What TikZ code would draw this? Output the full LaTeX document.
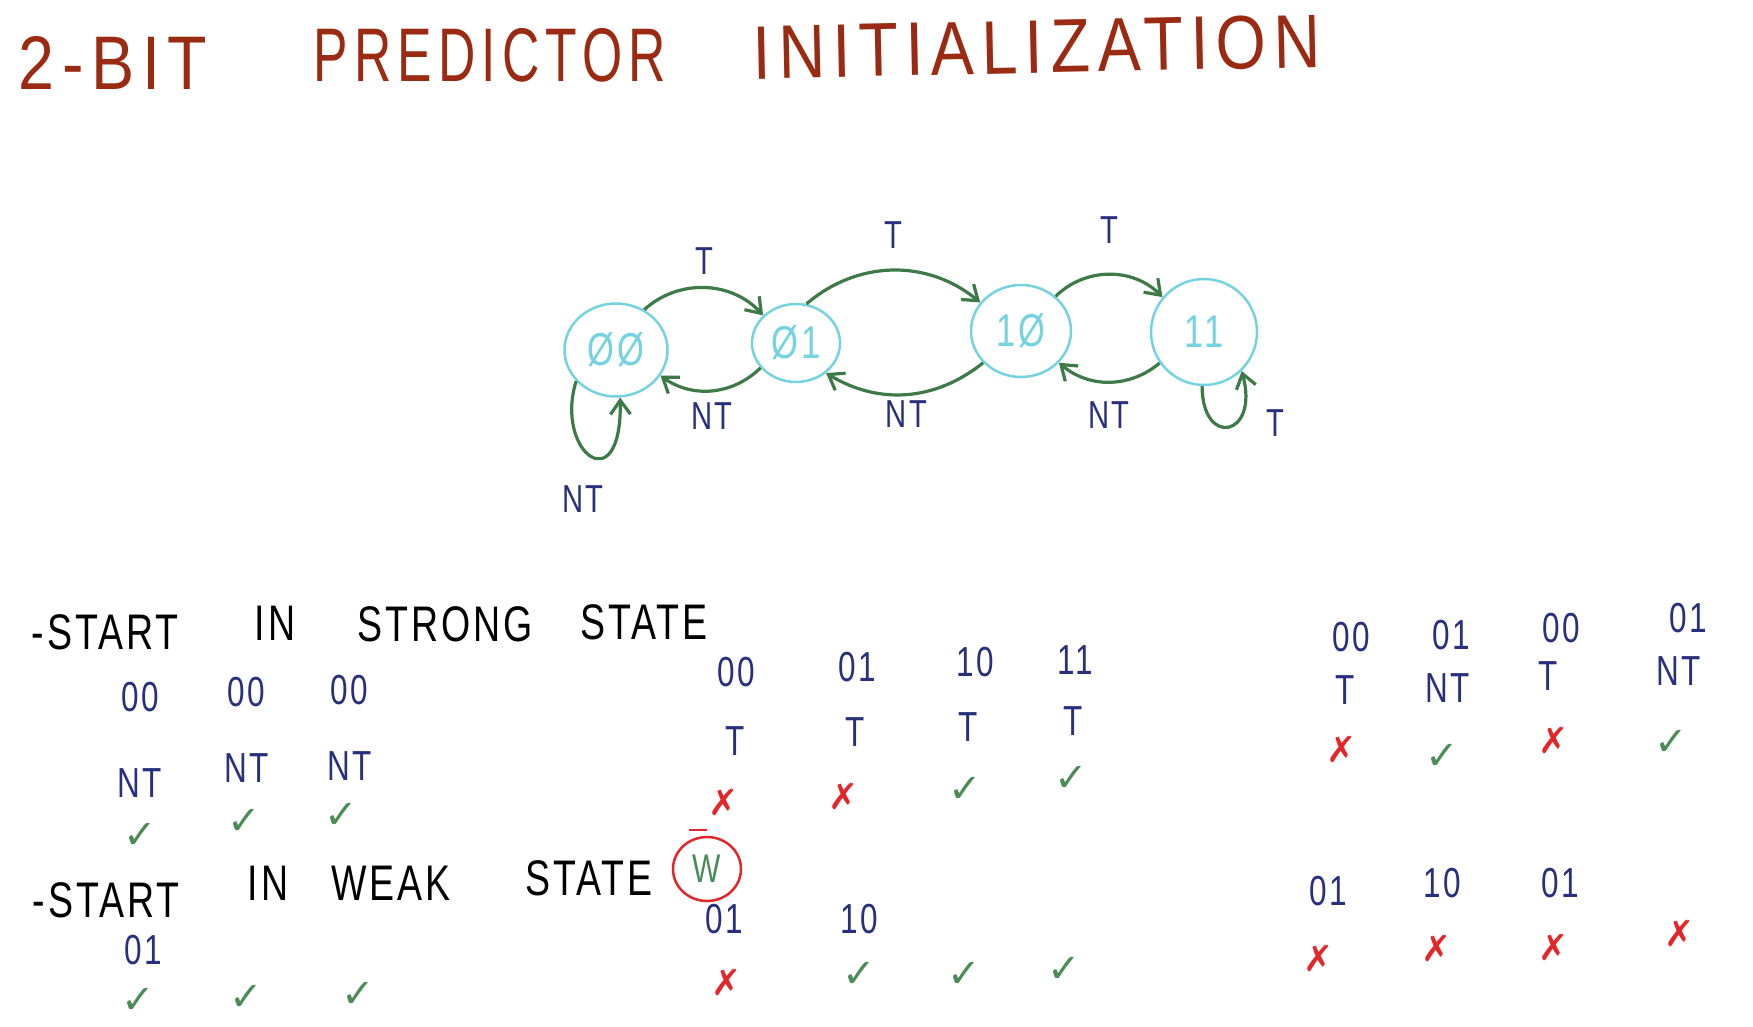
\documentclass[tikz,border=0pt]{standalone}
\usepackage{fontspec}
\usetikzlibrary{arrows.meta,positioning,shapes.geometric}
\newfontfamily\handfont[FakeStretch=0.75,LetterSpace=6]{Liberation Sans}
\newfontfamily\titlefont[FakeStretch=0.85,LetterSpace=10]{Liberation Sans}
\newfontfamily\symfont{DejaVu Sans}
\definecolor{titlered}{HTML}{9A2A12}
\definecolor{statecyan}{HTML}{74D3DF}
\definecolor{arrowgreen}{HTML}{3E7A48}
\definecolor{inkblue}{HTML}{28307E}
\definecolor{checkgreen}{HTML}{4B8B56}
\definecolor{crossred}{HTML}{E3262A}
\tikzset{
  heading/.style   = {text=titlered, font=\titlefont\fontsize{76}{80}\selectfont, inner sep=0pt},
  state/.style     = {ellipse, draw=statecyan, line width=2.5pt, text=statecyan, inner sep=0pt,
                      font=\handfont\fontsize{46}{48}\selectfont},
  trans/.style     = {-{Straight Barb[length=14pt,width=20pt]}, line width=3.2pt, draw=arrowgreen},
  edgelabel/.style = {text=inkblue, font=\handfont\fontsize{39}{41}\selectfont, inner sep=0pt},
  words/.style     = {text=black, font=\handfont\fontsize{50}{52}\selectfont, inner sep=0pt},
  bits/.style      = {text=inkblue, font=\handfont\fontsize{42}{44}\selectfont, inner sep=0pt},
  good/.style      = {text=checkgreen, font=\symfont\fontsize{40}{42}\selectfont, inner sep=0pt},
  bad/.style       = {text=crossred, font=\symfont\fontsize{36}{38}\selectfont, inner sep=0pt},
}

\begin{document}
\begin{tikzpicture}[x=1pt, y=-1pt]
    \useasboundingbox[fill=white] (0,0) rectangle (1753,1026);

    % Title
    \node[heading] (ttwobit) at (113,63) {2-BIT};
    \node[heading] (tpredictor) at (490,55) {\scalebox{0.8}[1]{PREDICTOR}};
    \node[heading, rotate=1.2] (tinit) at (1037,47) {INITIALIZATION};

    % States
    \node[state, minimum width=103, minimum height=93] (s00) at (616,350) {ØØ};
    \node[state, minimum width=88, minimum height=78] (s01) at (796,343) {Ø1};
    \node[state, minimum width=100, minimum height=92] (s10) at (1021,331) {1Ø};
    \node[state, minimum width=106, minimum height=106] (s11) at (1204,332) {11};

    % Taken edges
    \draw[trans] (s00.55) to[bend left=45] node[midway, above=12pt, edgelabel] (lt1) {T} (s01.140);
    \draw[trans] (s01.75) to[bend left=40] node[midway, above=20pt, edgelabel] (lt2) {T} (s10.145);
    \draw[trans] (s10.45) to[bend left=45] node[midway, above=29pt, edgelabel] (lt3) {T} (s11.140);
    \draw[trans] (s11.268) .. controls +(0,62) and +(18,66) .. (s11.314)
        node[pos=0.7, right=24pt, yshift=-8pt, edgelabel] (lt4) {T};

    % Not-taken edges
    \draw[trans] (s01.215) to[bend left=40] node[midway, below=10pt, edgelabel] (ln1) {NT} (s00.330);
    \draw[trans] (s10.220) to[bend left=35] node[midway, below=5pt, edgelabel] (ln2) {NT} (s01.315);
    \draw[trans] (s11.215) to[bend left=40] node[midway, below=18pt, edgelabel] (ln3) {NT} (s10.320);
    \draw[trans] (s00.218) .. controls +(-22,72) and +(2,105) .. (s00.275)
        node[pos=0.4, below=36pt, edgelabel] (ln4) {NT};

    % Start in strong state
    \node[words] (strstart) at (105,632) {-START};
    \node[words] (strin) at (275,623) {IN};
    \node[words] (strstrong) at (445,624) {STRONG};
    \node[words] (strstate) at (644,622) {STATE};

    \node[bits] (sa1) at (140,697) {00};
    \node[bits] (sa2) at (246,692) {00};
    \node[bits] (sa3) at (349,690) {00};
    \node[bits] (sb1) at (140,783) {NT};
    \node[bits] (sb2) at (247,768) {NT};
    \node[bits] (sb3) at (350,766) {NT};
    \node[good] (sc1) at (140,836) {✓};
    \node[good] (sc2) at (244,822) {✓};
    \node[good] (sc3) at (341,816) {✓};

    \node[bits] (ma1) at (736,672) {00};
    \node[bits] (ma2) at (857,667) {01};
    \node[bits] (ma3) at (975,662) {10};
    \node[bits] (ma4) at (1075,660) {11};
    \node[bits] (mb1) at (735,741) {T};
    \node[bits] (mb2) at (855,732) {T};
    \node[bits] (mb3) at (968,727) {T};
    \node[bits] (mb4) at (1073,721) {T};
    \node[bad] (mc1) at (724,802) {✗};
    \node[bad] (mc2) at (844,796) {✗};
    \node[good] (mc3) at (965,790) {✓};
    \node[good] (mc4) at (1071,779) {✓};

    % Start in weak state
    \node[words] (wkstart) at (106,900) {-START};
    \node[words] (wkin) at (268,883) {IN};
    \node[words] (wkweak) at (391,883) {WEAK};
    \node[words] (wkstate) at (589,878) {STATE};
    \node[ellipse, draw=crossred, line width=2.5pt, text=checkgreen, inner sep=0pt,
          minimum width=68, minimum height=64, font=\handfont\fontsize{40}{42}\selectfont] (wkw) at (707,869) {W};
    \draw[crossred, line width=2.5pt] ([xshift=-18pt, yshift=6pt]wkw.north) -- ++(18,0);

    \node[bits] (wa1) at (143,950) {01};
    \node[good] (wc1) at (138,1001) {✓};
    \node[good] (wc2) at (246,998) {✓};
    \node[good] (wc3) at (358,995) {✓};

    \node[bits] (na1) at (724,919) {01};
    \node[bits] (na2) at (859,919) {10};
    \node[bad] (nc1) at (727,982) {✗};
    \node[good] (nc2) at (859,975) {✓};
    \node[good] (nc3) at (964,975) {✓};
    \node[good] (nc4) at (1064,970) {✓};

    % Right-hand sequences
    \node[bits] (ra1) at (1351,637) {00};
    \node[bits] (ra2) at (1451,635) {01};
    \node[bits] (ra3) at (1561,628) {00};
    \node[bits] (ra4) at (1688,618) {01};
    \node[bits] (rb1) at (1345,690) {T};
    \node[bits] (rb2) at (1448,688) {NT};
    \node[bits] (rb3) at (1548,676) {T};
    \node[bits] (rb4) at (1679,671) {NT};
    \node[bad] (rc1) at (1342,749) {✗};
    \node[good] (rc2) at (1442,757) {✓};
    \node[bad] (rc3) at (1554,740) {✗};
    \node[good] (rc4) at (1671,743) {✓};

    \node[bits] (qa1) at (1328,891) {01};
    \node[bits] (qa2) at (1442,883) {10};
    \node[bits] (qa3) at (1560,883) {01};
    \node[bad] (qc1) at (1319,958) {✗};
    \node[bad] (qc2) at (1437,948) {✗};
    \node[bad] (qc3) at (1554,947) {✗};
    \node[bad] (qc4) at (1680,933) {✗};
\end{tikzpicture}
\end{document}
